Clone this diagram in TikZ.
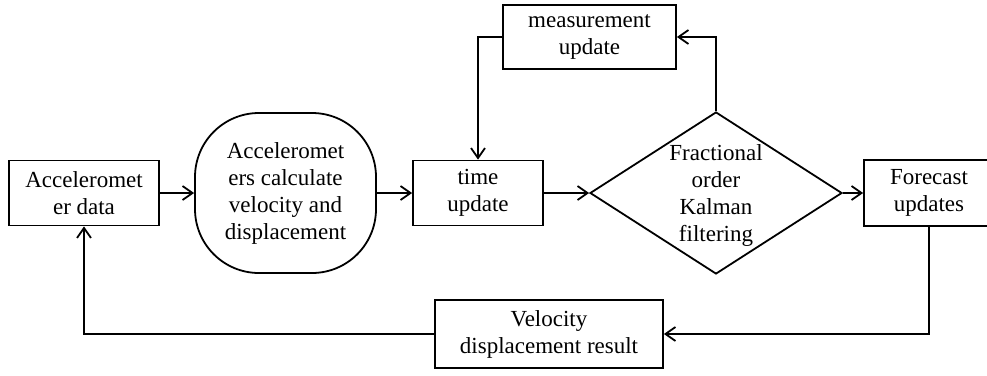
\documentclass[tikz,border=0pt]{standalone}
\usepackage{fontspec}
\setmainfont{Liberation Serif}
\usetikzlibrary{arrows.meta,shapes.geometric}

\begin{document}
\begin{tikzpicture}[x=1pt,y=-1pt,line width=1.8pt,font=\fontsize{23}{27}\selectfont,
	kutu/.style={draw,rectangle,align=center,inner sep=0pt},
	ok/.style={-{Straight Barb[length=10pt,width=14pt]}}]
\useasboundingbox (0,0) rectangle (987,375);
\node [kutu,minimum width=150pt,minimum height=65pt] (ivme) at (84,193) {Acceleromet\\er data};
\node [kutu,rounded corners=64pt,minimum width=181pt,minimum height=160pt] (hesap) at (285.5,193) {Acceleromet\\ers calculate\\velocity and\\displacement};
\node [kutu,minimum width=130pt,minimum height=65pt] (zaman) at (478,193) {time\\update};
\node [diamond,draw,inner sep=0pt,minimum width=252pt,minimum height=162pt] (kf) at (716,193) {};
\node [align=center,inner sep=0pt] (kfyazi) at (716,195) {Fractional\\order\\Kalman\\filtering};
\node [kutu,minimum width=130pt,minimum height=66pt] (tahmin) at (929,193) {Forecast\\updates};
\node [kutu,minimum width=173pt,minimum height=64pt] (olcum) at (589.5,37) {measurement\\update};
\node [kutu,minimum width=228pt,minimum height=68pt] (sonuc) at (549,334) {Velocity\\displacement result};
\draw [ok] (ivme) -- (hesap);
\draw [ok] (hesap) -- (zaman);
\draw [ok] (zaman) -- (kf);
\draw [ok] (kf) -- (tahmin);
\draw [ok] (kf.north) |- (olcum.east);
\draw [ok] (olcum.west) -| (zaman.north);
\draw [ok] (tahmin.south) |- (sonuc.east);
\draw [ok] (sonuc.west) -| (ivme.south);
\end{tikzpicture}
\end{document}
